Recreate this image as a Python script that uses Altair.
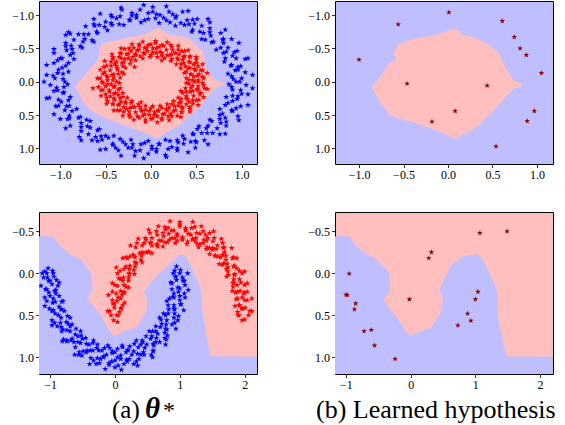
import altair as alt
import pandas as pd

# ---------------- data ----------------
# top-left: concentric circles (x, y)
circle_outer = [(0.94,0.00),(1.05,0.05),(0.89,0.08),(0.99,0.13),(1.07,0.19),(0.90,0.21),(0.95,0.26),(0.90,0.29),(0.99,0.37),(0.82,0.35),(0.90,0.44),(0.96,0.52),(0.79,0.48),(0.82,0.54),(0.76,0.56),(0.83,0.66),(0.67,0.59),(0.73,0.70),(0.76,0.79),(0.61,0.70),(0.62,0.77),(0.56,0.77),(0.59,0.88),(0.46,0.78),(0.49,0.89),(0.49,0.99),(0.37,0.86),(0.36,0.93),(0.30,0.91),(0.29,1.03),(0.21,0.89),(0.19,1.01),(0.16,1.10),(0.09,0.94),(0.06,1.01),(0.01,0.97),
(-0.03,1.08),(-0.07,0.92),(-0.12,1.03),(-0.18,1.11),(-0.20,0.94),(-0.25,0.99),(-0.28,0.94),(-0.36,1.03),(-0.34,0.86),(-0.42,0.95),(-0.50,1.01),(-0.47,0.84),(-0.54,0.87),(-0.55,0.82),(-0.65,0.88),(-0.59,0.73),(-0.69,0.79),(-0.79,0.83),(-0.70,0.67),(-0.77,0.68),(-0.77,0.62),(-0.89,0.66),(-0.78,0.53),(-0.90,0.55),(-1.00,0.56),(-0.87,0.44),(-0.95,0.43),(-0.93,0.37),(-1.05,0.37),(-0.91,0.28),(-1.02,0.27),(-1.12,0.24),(-0.97,0.17),(-1.03,0.13),(-0.96,0.08),(-1.11,0.05),
(-0.95,0.00),(-1.06,-0.05),(-1.15,-0.10),(-0.97,-0.12),(-1.02,-0.18),(-0.98,-0.21),(-1.07,-0.28),(-0.91,-0.28),(-1.00,-0.35),(-1.07,-0.43),(-0.89,-0.40),(-0.93,-0.47),(-0.87,-0.49),(-0.94,-0.58),(-0.78,-0.53),(-0.85,-0.63),(-0.89,-0.72),(-0.73,-0.64),(-0.74,-0.71),(-0.69,-0.71),(-0.72,-0.83),(-0.59,-0.73),(-0.62,-0.84),(-0.63,-0.94),(-0.51,-0.82),(-0.50,-0.90),(-0.44,-0.88),(-0.44,-1.00),(-0.35,-0.86),(-0.34,-0.98),(-0.32,-1.08),(-0.24,-0.93),(-0.21,-0.99),(-0.16,-0.96),(-0.12,-1.08),(-0.07,-0.92),
(-0.03,-1.03),(0.02,-1.12),(0.05,-0.95),(0.10,-1.00),(0.14,-0.96),(0.20,-1.05),(0.21,-0.89),(0.28,-0.98),(0.35,-1.05),(0.33,-0.88),(0.40,-0.92),(0.42,-0.86),(0.51,-0.94),(0.46,-0.78),(0.56,-0.84),(0.65,-0.89),(0.58,-0.73),(0.65,-0.74),(0.66,-0.69),(0.77,-0.73),(0.67,-0.59),(0.79,-0.63),(0.89,-0.64),(0.77,-0.51),(0.85,-0.51),(0.83,-0.45),(0.95,-0.46),(0.82,-0.35),(0.94,-0.35),(1.04,-0.34),(0.89,-0.25),(0.96,-0.22),(0.93,-0.17),(1.04,-0.14),(0.89,-0.08),(1.00,-0.05)]
circle_outer_2 = [(0.98,0.00),(0.86,0.04),(1.12,0.10),(0.90,0.12),(1.00,0.18),(0.96,0.22),(0.83,0.23),(1.07,0.35),(0.85,0.32),(0.94,0.40),(0.89,0.43),(0.76,0.41),(0.97,0.58),(0.76,0.50),(0.83,0.60),(0.77,0.62),(0.65,0.57),(0.82,0.78),(0.63,0.66),(0.68,0.77),(0.53,0.67),(0.51,0.71),(0.63,0.94),(0.47,0.79),(0.50,0.91),(0.44,0.90),(0.35,0.81),(0.41,1.06),(0.29,0.88),(0.29,1.00),(0.23,0.98),(0.16,0.87),(0.17,1.13),(0.09,0.93),(0.06,1.05),(0.01,1.01),
(-0.03,0.89),(-0.08,1.15),(-0.11,0.94),(-0.17,1.04),(-0.21,0.99),(-0.22,0.87),(-0.33,1.11),(-0.31,0.90),(-0.39,0.99),(-0.42,0.93),(-0.41,0.81),(-0.56,1.02),(-0.50,0.81),(-0.59,0.89),(-0.61,0.83),(-0.57,0.71),(-0.77,0.88),(-0.67,0.69),(-0.77,0.74),(-0.67,0.59),(-0.71,0.57),(-0.94,0.70),(-0.80,0.54),(-0.92,0.56),(-0.90,0.51),(-0.82,0.41),(-1.07,0.49),(-0.90,0.36),(-1.02,0.36),(-0.99,0.30),(-0.89,0.23),(-1.15,0.25),(-0.96,0.16),(-1.07,0.14),(-1.04,0.09),(-0.92,0.04),
(-1.18,0.00),(-0.97,-0.04),(-1.08,-0.09),(-1.03,-0.13),(-0.91,-0.15),(-1.15,-0.25),(-0.94,-0.24),(-1.03,-0.32),(-0.98,-0.35),(-0.85,-0.34),(-1.07,-0.49),(-0.86,-0.43),(-0.94,-0.53),(-0.88,-0.54),(-0.76,-0.51),(-0.94,-0.70),(-0.75,-0.60),(-0.80,-0.71),(-0.65,-0.62),(-0.63,-0.60),(-0.91,-0.74),(-0.60,-0.75),(-0.63,-0.86),(-0.57,-0.85),(-0.48,-0.77),(-0.56,-1.02),(-0.43,-0.85),(-0.43,-0.97),(-0.38,-0.95),(-0.30,-0.85),(-0.33,-1.11),(-0.23,-0.92),(-0.21,-1.03),(-0.16,-1.00),(-0.11,-0.89),(-0.08,-1.15),
(-0.03,-0.94),(0.02,-1.05),(0.06,-1.01),(0.09,-0.88),(0.17,-1.13),(0.17,-0.92),(0.24,-1.01),(0.27,-0.96),(0.27,-0.84),(0.41,-1.06),(0.37,-0.85),(0.46,-0.93),(0.48,-0.87),(0.45,-0.75),(0.63,-0.94),(0.54,-0.75),(0.65,-0.80),(0.56,-0.64),(0.60,-0.63),(0.82,-0.78),(0.69,-0.60),(0.80,-0.64),(0.80,-0.58),(0.72,-0.48),(0.97,-0.58),(0.80,-0.43),(0.92,-0.44),(0.90,-0.39),(0.81,-0.30),(1.07,-0.35),(0.88,-0.24),(0.99,-0.23),(0.96,-0.18),(0.85,-0.12),(1.12,-0.10),(0.91,-0.04)]

circle_inner = [(0.48,0.00),(0.57,0.02),(0.42,0.03),(0.52,0.07),(0.59,0.10),(0.44,0.09),(0.52,0.13),(0.46,0.14),(0.54,0.19),(0.39,0.15),(0.47,0.21),(0.53,0.27),(0.39,0.22),(0.46,0.28),(0.40,0.26),(0.46,0.33),(0.33,0.26),(0.39,0.34),(0.43,0.41),(0.31,0.32),(0.35,0.40),(0.30,0.36),(0.34,0.45),(0.23,0.34),(0.27,0.43),(0.29,0.51),(0.20,0.39),(0.22,0.48),(0.18,0.43),(0.19,0.52),(0.12,0.39),(0.13,0.49),(0.12,0.57),(0.08,0.43),(0.07,0.52),(0.04,0.46),
(0.02,0.55),(0.00,0.40),(-0.02,0.50),(-0.06,0.57),(-0.06,0.42),(-0.09,0.51),(-0.10,0.44),(-0.15,0.52),(-0.12,0.38),(-0.17,0.46),(-0.23,0.53),(-0.18,0.38),(-0.24,0.45),(-0.23,0.39),(-0.30,0.45),(-0.22,0.32),(-0.30,0.38),(-0.37,0.43),(-0.28,0.30),(-0.36,0.35),(-0.33,0.30),(-0.42,0.33),(-0.31,0.23),(-0.40,0.27),(-0.48,0.29),(-0.36,0.20),(-0.45,0.22),(-0.41,0.18),(-0.50,0.19),(-0.36,0.12),(-0.46,0.13),(-0.55,0.13),(-0.40,0.07),(-0.50,0.07),(-0.44,0.04),(-0.53,0.02),
(-0.38,0.00),(-0.48,-0.02),(-0.56,-0.05),(-0.41,-0.06),(-0.49,-0.09),(-0.43,-0.10),(-0.51,-0.14),(-0.36,-0.12),(-0.45,-0.17),(-0.52,-0.22),(-0.37,-0.18),(-0.44,-0.24),(-0.38,-0.23),(-0.44,-0.30),(-0.31,-0.23),(-0.38,-0.30),(-0.42,-0.37),(-0.30,-0.29),(-0.35,-0.37),(-0.29,-0.34),(-0.33,-0.42),(-0.22,-0.32),(-0.27,-0.41),(-0.29,-0.49),(-0.20,-0.37),(-0.22,-0.46),(-0.17,-0.42),(-0.19,-0.51),(-0.12,-0.38),(-0.13,-0.48),(-0.13,-0.56),(-0.07,-0.42),(-0.07,-0.51),(-0.04,-0.46),(-0.03,-0.55),(0.00,-0.40),
(0.02,-0.50),(0.05,-0.58),(0.06,-0.43),(0.09,-0.52),(0.10,-0.45),(0.14,-0.54),(0.12,-0.39),(0.17,-0.48),(0.22,-0.55),(0.18,-0.40),(0.24,-0.47),(0.23,-0.41),(0.30,-0.48),(0.23,-0.34),(0.31,-0.41),(0.37,-0.46),(0.30,-0.33),(0.37,-0.38),(0.35,-0.33),(0.43,-0.37),(0.33,-0.26),(0.42,-0.30),(0.50,-0.33),(0.38,-0.23),(0.47,-0.26),(0.43,-0.21),(0.52,-0.23),(0.39,-0.15),(0.49,-0.17),(0.57,-0.17),(0.44,-0.11),(0.53,-0.11),(0.47,-0.08),(0.57,-0.07),(0.42,-0.03),(0.52,-0.02),
(-0.64,0.10),(-0.18,-0.22)]
circle_inner_2 = [(0.52,0.00),(0.39,0.02),(0.58,0.05),(0.46,0.06),(0.62,0.11),(0.51,0.11),(0.38,0.10),(0.55,0.17),(0.43,0.15),(0.58,0.23),(0.33,0.14),(0.35,0.17),(0.50,0.28),(0.39,0.24),(0.52,0.35),(0.42,0.30),(0.30,0.24),(0.43,0.38),(0.33,0.31),(0.43,0.45),(0.34,0.38),(0.25,0.29),(0.34,0.46),(0.26,0.37),(0.33,0.53),(0.25,0.44),(0.18,0.34),(0.23,0.52),(0.17,0.41),(0.20,0.58),(0.15,0.48),(0.10,0.36),(0.12,0.55),(0.08,0.44),(0.07,0.61),(0.04,0.50),
(0.02,0.37),(0.00,0.56),(-0.02,0.44),(-0.06,0.60),(-0.07,0.49),(-0.06,0.36),(-0.13,0.54),(-0.11,0.42),(-0.19,0.57),(-0.11,0.31),(-0.14,0.34),(-0.24,0.50),(-0.20,0.38),(-0.31,0.51),(-0.27,0.41),(-0.21,0.29),(-0.34,0.43),(-0.28,0.32),(-0.41,0.43),(-0.35,0.34),(-0.26,0.24),(-0.42,0.34),(-0.34,0.25),(-0.49,0.33),(-0.41,0.25),(-0.31,0.17),(-0.49,0.24),(-0.39,0.17),(-0.55,0.21),(-0.46,0.15),(-0.34,0.10),(-0.53,0.12),(-0.41,0.08),(-0.58,0.08),(-0.48,0.04),(-0.35,0.02),
(-0.54,0.00),(-0.42,-0.02),(-0.59,-0.05),(-0.48,-0.07),(-0.34,-0.06),(-0.53,-0.12),(-0.41,-0.11),(-0.56,-0.18),(-0.30,-0.12),(-0.32,-0.14),(-0.49,-0.24),(-0.37,-0.20),(-0.51,-0.31),(-0.40,-0.27),(-0.28,-0.21),(-0.42,-0.34),(-0.32,-0.28),(-0.43,-0.41),(-0.33,-0.35),(-0.23,-0.27),(-0.34,-0.43),(-0.25,-0.35),(-0.33,-0.50),(-0.25,-0.42),(-0.17,-0.32),(-0.24,-0.50),(-0.17,-0.40),(-0.21,-0.56),(-0.15,-0.47),(-0.09,-0.35),(-0.13,-0.54),(-0.08,-0.43),(-0.09,-0.60),(-0.05,-0.50),(-0.01,-0.37),(0.00,-0.56),
(0.02,-0.44),(0.05,-0.61),(0.06,-0.50),(0.07,-0.37),(0.12,-0.55),(0.12,-0.43),(0.18,-0.59),(0.12,-0.32),(0.15,-0.35),(0.23,-0.52),(0.21,-0.40),(0.30,-0.54),(0.27,-0.43),(0.22,-0.31),(0.34,-0.46),(0.29,-0.35),(0.41,-0.47),(0.36,-0.37),(0.28,-0.26),(0.43,-0.38),(0.36,-0.28),(0.50,-0.37),(0.43,-0.29),(0.33,-0.20),(0.50,-0.28),(0.41,-0.20),(0.57,-0.26),(0.48,-0.19),(0.37,-0.13),(0.55,-0.17),(0.44,-0.11),(0.62,-0.13),(0.51,-0.09),(0.39,-0.05),(0.58,-0.05),(0.46,-0.02)]

# top-right: learned-hypothesis sample points
circle_sample = [(0.01,-1.04),(-0.56,-0.86),(0.61,-0.91),(0.745,-0.67),(0.81,-0.50),(0.88,-0.40),(-1.00,-0.33),(1.05,-0.13),(-0.46,0.03),(0.44,0.06),(0.08,0.44),(0.97,0.44),(-0.18,0.60),(0.89,0.59),(0.54,0.97)]

# decision regions, rows of (y, x_left, x_right)
circle_region_a = [(-0.81,0.074,0.074),(-0.71,-0.07,0.20),(-0.66,-0.26,0.40),(-0.57,-0.55,0.48),(-0.46,-0.57,0.57),(-0.335,-0.58,0.595),(-0.21,-0.66,0.61),(-0.035,-0.77,0.70),(0.04,-0.82,0.83),(0.08,-0.83,0.735),(0.165,-0.80,0.66),(0.29,-0.75,0.59),(0.415,-0.68,0.50),(0.515,-0.55,0.42),(0.64,-0.33,0.33),(0.74,-0.11,0.20),(0.85,0.074,0.074)]
circle_region_b = [(-0.80,0.075,0.075),(-0.70,-0.13,0.17),(-0.65,-0.36,0.32),(-0.56,-0.56,0.45),(-0.425,-0.61,0.58),(-0.325,-0.58,0.60),(-0.275,-0.66,0.62),(-0.025,-0.79,0.73),(0.025,-0.82,0.82),(0.075,-0.86,0.835),(0.10,-0.85,0.75),(0.175,-0.82,0.69),(0.30,-0.77,0.60),(0.40,-0.71,0.54),(0.50,-0.655,0.47),(0.56,-0.54,0.41),(0.625,-0.36,0.375),(0.75,-0.09,0.24),(0.86,0.075,0.075)]

# bottom-left: two moons
moon_lower = [(0.90,0.00),(1.12,0.00),(1.04,0.05),(0.93,0.04),(0.95,0.08),(1.07,0.09),(1.08,0.14),(0.86,0.11),(0.97,0.17),(1.00,0.18),(0.88,0.19),(1.07,0.24),(1.00,0.27),(1.08,0.29),(0.91,0.29),(0.89,0.28),(1.02,0.37),(1.01,0.37),(0.91,0.38),(0.80,0.33),(0.82,0.38),(0.92,0.43),(0.92,0.48),(0.98,0.51),(0.82,0.48),(0.97,0.56),(0.92,0.59),(0.78,0.50),(0.80,0.56),(0.88,0.61),(0.71,0.55),(0.69,0.53),(0.80,0.67),(0.78,0.66),(0.70,0.64),(0.81,0.74),(0.77,0.77),(0.79,0.79),(0.66,0.72),(0.63,0.69),(0.58,0.69),(0.69,0.82),(0.63,0.82),(0.53,0.69),(0.55,0.78),(0.59,0.84),(0.59,0.92),(0.59,0.93),(0.49,0.85),(0.56,0.97),(0.42,0.80),(0.43,0.82),(0.44,0.94),(0.45,0.97),(0.36,0.88),(0.33,0.80),(0.37,1.02),(0.35,0.96),(0.29,0.93),(0.33,1.05),(0.23,0.87),(0.29,1.08),(0.22,1.02),(0.20,0.91),(0.17,0.94),(0.19,1.05),(0.14,1.08),(0.11,0.86),(0.09,0.98),(0.09,1.02),(0.04,0.90),(0.05,1.10),(0.00,1.04),(0.00,1.12),
(-0.04,0.95),(-0.04,0.93),(-0.09,1.09),(-0.09,1.07),(-0.13,0.97),(-0.11,0.86),(-0.16,0.89),(-0.18,1.00),(-0.22,1.02),(-0.24,1.07),(-0.25,0.92),(-0.29,1.08),(-0.33,1.04),(-0.28,0.89),(-0.34,0.92),(-0.37,1.01),(-0.34,0.83),(-0.33,0.80),(-0.44,0.94),(-0.43,0.92),(-0.44,0.84),(-0.51,0.98),(-0.55,0.94),(-0.56,0.97),(-0.53,0.83),(-0.50,0.78),(-0.52,0.74),(-0.61,0.88),(-0.63,0.82),(-0.53,0.69),(-0.61,0.73),(-0.66,0.78),(-0.74,0.80),(-0.74,0.81),(-0.69,0.69),(-0.79,0.79),(-0.66,0.61),(-0.69,0.63),(-0.80,0.67),(-0.82,0.69),(-0.75,0.58),(-0.69,0.53),(-0.89,0.63),(-0.84,0.59),(-0.83,0.53),(-0.93,0.59),(-0.78,0.45),(-0.97,0.56),(-0.92,0.48),(-0.82,0.43),(-0.86,0.40),(-0.97,0.45),(-1.01,0.42),(-0.80,0.33),(-0.92,0.34),(-0.96,0.35),(-0.86,0.27),(-1.05,0.33),(-1.00,0.27),(-1.08,0.29),(-0.93,0.21),(-0.91,0.20),(-1.07,0.19),(-1.05,0.19),(-0.97,0.13),(-0.86,0.11),(-0.90,0.08),(-1.02,0.09),(-1.04,0.05),(-1.10,0.05),(-0.95,0.00),(-1.12,0.00),
(0.95,-0.08),(1.01,-0.04),(0.92,-0.03),(-1.03,-0.06),(-0.96,-0.03),(-1.08,-0.02)]
moon_lower_2 = [(1.00,0.00),(0.94,0.04),(1.05,0.09),(0.88,0.12),(1.13,0.20),(0.98,0.22),(0.91,0.24),(1.00,0.32),(0.84,0.30),(1.06,0.44),(0.91,0.42),(0.83,0.43),(0.91,0.53),(0.75,0.48),(0.94,0.66),(0.79,0.61),(0.72,0.60),(0.77,0.71),(0.63,0.63),(0.78,0.85),(0.64,0.77),(0.57,0.75),(0.60,0.86),(0.48,0.75),(0.58,1.00),(0.46,0.89),(0.40,0.85),(0.40,0.97),(0.30,0.84),(0.35,1.10),(0.26,0.97),(0.20,0.92),(0.18,1.03),(0.12,0.88),(0.10,1.15),(0.04,1.00),(0.00,0.94),
(-0.05,1.05),(-0.08,0.89),(-0.15,1.14),(-0.17,0.99),(-0.20,0.92),(-0.27,1.01),(-0.27,0.85),(-0.39,1.08),(-0.38,0.92),(-0.40,0.85),(-0.49,0.93),(-0.45,0.77),(-0.62,0.97),(-0.57,0.82),(-0.57,0.75),(-0.68,0.80),(-0.60,0.66),(-0.81,0.81),(-0.74,0.68),(-0.72,0.60),(-0.83,0.64),(-0.73,0.51),(-0.97,0.62),(-0.87,0.50),(-0.83,0.43),(-0.95,0.44),(-0.82,0.34),(-1.08,0.39),(-0.95,0.30),(-0.91,0.24),(-1.02,0.23),(-0.88,0.15),(-1.14,0.15),(-1.00,0.09),(-0.94,0.04),(-1.05,0.00)]

moon_upper = [(-0.06,0.50),(0.05,0.50),(0.07,0.46),(-0.11,0.45),(-0.01,0.41),(0.10,0.42),(0.12,0.38),(-0.03,0.36),(-0.04,0.32),(0.03,0.33),(0.09,0.30),(-0.10,0.26),(0.02,0.24),(0.11,0.26),(0.15,0.23),(0.09,0.21),(0.00,0.14),(-0.04,0.12),(0.14,0.14),(0.17,0.16),(0.09,0.07),(0.06,0.06),(0.21,0.09),(0.13,0.05),(0.08,-0.03),(0.02,-0.07),(0.22,0.00),(0.22,0.01),(0.17,-0.08),(0.22,-0.05),(0.29,-0.04),(0.12,-0.18),(0.19,-0.18),(0.31,-0.08),(0.31,-0.13),(0.23,-0.20),(0.29,-0.21),(0.31,-0.19),(0.40,-0.16),(0.24,-0.33),(0.32,-0.31),(0.41,-0.21),(0.43,-0.24),(0.42,-0.25),(0.42,-0.33),(0.36,-0.41),(0.52,-0.25),(0.52,-0.26),(0.47,-0.42),(0.48,-0.40),(0.57,-0.33),(0.55,-0.37),(0.57,-0.42),(0.52,-0.52),(0.66,-0.32),(0.65,-0.35),(0.64,-0.50),(0.68,-0.39),(0.72,-0.39),(0.67,-0.56),(0.74,-0.48),(0.77,-0.37),(0.81,-0.37),(0.78,-0.52),(0.82,-0.54),(0.83,-0.47),(0.88,-0.42),(0.85,-0.62),(0.91,-0.51),(0.92,-0.42),(0.96,-0.39),(0.96,-0.45),(1.00,-0.56),(1.00,-0.61),
(1.04,-0.43),(1.04,-0.40),(1.09,-0.51),(1.09,-0.54),(1.12,-0.38),(1.13,-0.47),(1.18,-0.54),(1.20,-0.61),(1.20,-0.41),(1.20,-0.40),(1.26,-0.48),(1.25,-0.42),(1.27,-0.35),(1.33,-0.56),(1.36,-0.50),(1.31,-0.35),(1.36,-0.36),(1.40,-0.46),(1.43,-0.42),(1.41,-0.39),(1.41,-0.29),(1.52,-0.50),(1.53,-0.42),(1.46,-0.30),(1.50,-0.28),(1.51,-0.30),(1.58,-0.33),(1.64,-0.41),(1.54,-0.21),(1.55,-0.21),(1.68,-0.31),(1.67,-0.30),(1.63,-0.19),(1.66,-0.22),(1.71,-0.21),(1.80,-0.30),(1.66,-0.10),(1.68,-0.12),(1.81,-0.18),(1.73,-0.11),(1.74,-0.07),(1.88,-0.18),(1.83,-0.08),(1.74,-0.02),(1.75,0.02),(1.88,-0.06),(1.92,-0.03),(1.85,0.01),(1.83,0.07),(2.00,-0.02),(1.92,0.07),(1.83,0.11),(1.82,0.16),(1.88,0.14),(2.00,0.14),(2.04,0.12),(1.89,0.22),(1.86,0.23),(1.98,0.24),(2.00,0.23),(1.87,0.31),(1.96,0.29),(2.04,0.32),(2.11,0.30),(1.92,0.38),(1.91,0.38),(2.01,0.41),(1.95,0.42),(1.89,0.46),(2.11,0.45),(2.06,0.50),(1.90,0.50),
(-0.02,0.56),(0.04,0.58),(2.00,0.55),(1.96,0.56)]
moon_upper_2 = [(0.03,0.50),(-0.08,0.45),(0.09,0.42),(-0.01,0.37),(0.15,0.35),(0.05,0.29),(-0.04,0.22),(0.13,0.23),(0.04,0.15),(0.21,0.17),(0.12,0.09),(0.04,0.00),(0.21,0.05),(0.14,-0.05),(0.30,0.01),(0.23,-0.09),(0.17,-0.19),(0.33,-0.12),(0.28,-0.22),(0.42,-0.13),(0.38,-0.24),(0.34,-0.36),(0.48,-0.25),(0.45,-0.36),(0.57,-0.24),(0.55,-0.36),(0.54,-0.48),(0.65,-0.34),(0.65,-0.46),(0.74,-0.32),(0.75,-0.44),(0.77,-0.55),(0.84,-0.40),(0.87,-0.51),(0.93,-0.36),(0.96,-0.47),(1.00,-0.58),
(1.04,-0.41),(1.09,-0.52),(1.11,-0.35),(1.17,-0.46),(1.23,-0.55),(1.24,-0.38),(1.31,-0.47),(1.29,-0.31),(1.37,-0.40),(1.46,-0.48),(1.42,-0.31),(1.51,-0.38),(1.46,-0.23),(1.56,-0.29),(1.66,-0.36),(1.59,-0.20),(1.69,-0.25),(1.61,-0.11),(1.71,-0.16),(1.83,-0.19),(1.72,-0.05),(1.84,-0.09),(1.72,0.04),(1.84,0.02),(1.96,0.00),(1.82,0.12),(1.94,0.11),(1.81,0.21),(1.93,0.21),(2.04,0.22),(1.89,0.30),(2.00,0.32),(1.85,0.39),(1.97,0.42),(2.08,0.45),(1.91,0.50)]

# bottom-right: learned-hypothesis sample points
moon_sample = [(1.07,-0.48),(1.49,-0.50),(0.32,-0.25),(0.28,-0.18),(-0.95,0.005),(-1.00,0.255),(-0.98,0.26),(-0.85,0.36),(-0.87,0.43),(-0.72,0.69),(-0.61,0.675),(-0.56,0.86),(-0.24,1.02),(-0.02,0.31),(1.04,0.22),(1.00,0.31),(0.88,0.48),(0.93,0.565),(0.73,0.62)]

# moon decision regions (blue parts over red background), rows of (y, x_left, x_right)
moon_a_left = [(-0.44,-1.3,-0.96),(-0.36,-1.3,-0.88),(-0.24,-1.3,-0.73),(-0.16,-1.3,-0.52),(0.00,-1.3,-0.37),(0.18,-1.3,-0.34),(0.31,-1.3,-0.43),(0.375,-1.3,-0.34),(0.51,-1.3,-0.21),(0.65,-1.3,-0.11),(0.75,-1.3,-0.03),(1.3,-1.3,-0.03)]
moon_a_right = [(-0.23,1.02,1.02),(-0.20,0.97,1.10),(-0.16,0.92,1.12),(-0.02,0.71,1.21),(0.10,0.56,1.28),(0.22,0.45,1.33),(0.335,0.50,1.34),(0.455,0.48,1.35),(0.63,0.35,1.39),(0.65,0.30,1.39),(0.69,0.145,1.40),(0.74,0.00,1.41),(0.75,-1.3,1.41),(0.99,-1.3,1.47),(0.995,-1.3,2.4),(1.3,-1.3,2.4)]
moon_b_left = [(-0.44,-1.3,-0.95),(-0.34,-1.3,-0.86),(-0.25,-1.3,-0.73),(-0.18,-1.3,-0.55),(-0.08,-1.3,-0.42),(0.00,-1.3,-0.33),(0.22,-1.3,-0.32),(0.315,-1.3,-0.42),(0.415,-1.3,-0.33),(0.555,-1.3,-0.19),(0.745,-1.3,-0.02),(1.3,-1.3,-0.02)]
moon_b_right = [(-0.23,1.02,1.02),(-0.20,0.81,1.07),(-0.16,0.74,1.12),(-0.10,0.63,1.16),(0.04,0.53,1.24),(0.20,0.45,1.33),(0.315,0.50,1.35),(0.49,0.45,1.35),(0.645,0.32,1.38),(0.74,-0.01,1.41),(0.75,-1.3,1.41),(0.99,-1.3,1.48),(0.995,-1.3,2.4),(1.3,-1.3,2.4)]

circle_ticks = [-1.0, -0.5, 0.0, 0.5, 1.0]
moon_xticks = [-1, 0, 1, 2]
moon_yticks = [-0.5, 0.0, 0.5, 1.0]

# ---------------- styling ----------------
STAR = ("M0,-1L0.2245,-0.309L0.951,-0.309L0.363,0.118L0.588,0.809L0,0.382"
        "L-0.588,0.809L-0.363,0.118L-0.951,-0.309L-0.2245,-0.309Z")
BLUE_BG = "#BFBFFF"
RED_BG = "#FFBFBF"
FONT = "Liberation Serif, Times New Roman, serif"
W = 218
H_TOP = 163
H_BOT = 162


def pts(pairs):
    return pd.DataFrame(pairs, columns=["x", "y"])


def region(rows):
    return pd.DataFrame(rows, columns=["y", "xl", "xr"])


def panel(xdom, ydom, xticks, yticks, xfmt, bg, regions, region_color,
          point_layers, H, extra=()):
    xs = alt.Scale(domain=xdom, nice=False, zero=False)
    ys = alt.Scale(domain=ydom, nice=False, zero=False, reverse=True)
    ax = alt.Axis(values=xticks, format=xfmt, title=None)
    ay = alt.Axis(values=yticks, format=".1f", title=None)
    layers = []
    for r in regions:
        layers.append(
            alt.Chart(region(r)).mark_area(orient="horizontal", color=region_color,
                                           clip=True, opacity=1).encode(
                y=alt.Y("y:Q", scale=ys, axis=ay),
                x=alt.X("xl:Q", scale=xs, axis=ax),
                x2="xr:Q"))
    for data, color, size in point_layers:
        layers.append(
            alt.Chart(pts(data)).mark_point(shape=STAR, filled=True, size=size,
                                            color=color, opacity=1, clip=True).encode(
                x=alt.X("x:Q", scale=xs, axis=ax),
                y=alt.Y("y:Q", scale=ys, axis=ay)))
    layers += list(extra)
    return alt.layer(*layers).properties(
        width=W, height=H,
        view=alt.ViewBackground(fill=bg, stroke="black", strokeWidth=1))


def txt(s, x, y, size, style="normal", weight="normal"):
    return alt.Chart(pd.DataFrame({"t": [s]})).mark_text(
        align="left", baseline="alphabetic", font=FONT, fontSize=size,
        fontStyle=style, fontWeight=weight, color="black").encode(
        text="t:N", x=alt.value(x), y=alt.value(y))


tl = panel([-1.235, 1.17], [-1.21, 1.235], circle_ticks, circle_ticks, ".1f",
           BLUE_BG, [circle_region_a], RED_BG,
           [(circle_outer + circle_outer_2, "#0000FF", 42),
            (circle_inner + circle_inner_2, "#FF0000", 42)], H_TOP)
tr = panel([-1.27, 1.18], [-1.21, 1.235], circle_ticks, circle_ticks, ".1f",
           BLUE_BG, [circle_region_b], RED_BG,
           [(circle_sample, "#8B0000", 36)], H_TOP)

cap_y = H_BOT + 44
bl = panel([-1.17, 2.19], [-0.73, 1.20], moon_xticks, moon_yticks, "d",
           RED_BG, [moon_a_left, moon_a_right], BLUE_BG,
           [(moon_lower + moon_lower_2, "#0000FF", 42),
            (moon_upper + moon_upper_2, "#FF0000", 42)], H_BOT,
           extra=[txt("(a)", 73, cap_y, 25),
                  txt("θ", 106, cap_y, 29, style="italic", weight="bold"),
                  txt("*", 124, cap_y, 24)])
br = panel([-1.17, 2.20], [-0.73, 1.20], moon_xticks, moon_yticks, "d",
           RED_BG, [moon_b_left, moon_b_right], BLUE_BG,
           [(moon_sample, "#8B0000", 36)], H_BOT,
           extra=[txt("(b) Learned hypothesis", -19, cap_y, 26)])

chart = alt.vconcat(
    alt.hconcat(tl, tr, spacing=49),
    alt.hconcat(bl, br, spacing=49),
    spacing=30,
).properties(
    padding={"left": 11, "top": 0, "right": 5, "bottom": 0}
).configure_axis(
    labelFont=FONT, labelFontSize=12, labelColor="black", tickColor="black",
    tickSize=3.5, tickWidth=0.8, domain=False, grid=False, labelPadding=2,
    labelFlush=False,
).configure_view(stroke="black", strokeWidth=1)

chart.save("out.html", embed_options={"renderer": "svg", "actions": False})
